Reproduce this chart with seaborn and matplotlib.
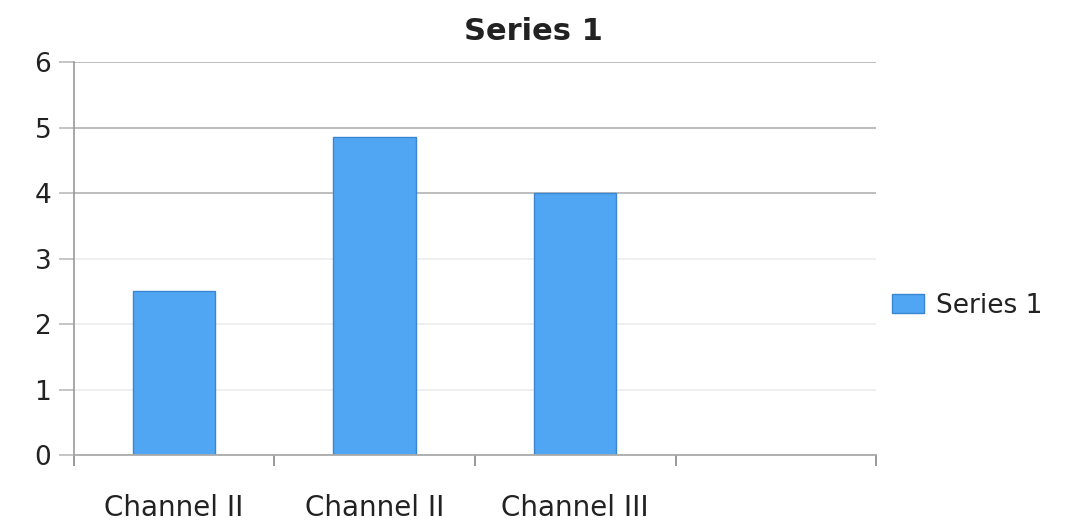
import matplotlib
matplotlib.use("Agg")
import matplotlib.pyplot as plt
import seaborn as sns
import pandas as pd
from matplotlib.ticker import FixedLocator

# Chart data
slots = [0, 1, 2]
channel_labels = ["Channel II", "Channel II", "Channel III"]
values = [2.5, 4.85, 4.0]
series_name = "Series 1"
y_ticks = [0, 1, 2, 3, 4, 5, 6]

df = pd.DataFrame({"slot": slots, "value": values, "series": [series_name] * len(slots)})

sns.set_style("white")
plt.rcParams["font.family"] = ["DejaVu Sans"]

fig = plt.figure(figsize=(10.66, 5.22), dpi=100)
ax = fig.add_axes([0.069, 0.128, 0.753, 0.753])

bar_color = "#50a6f2"
sns.barplot(data=df, x="slot", y="value", hue="series", palette=[bar_color],
            saturation=1, width=0.41, edgecolor="#3a86d2", linewidth=1.0,
            ax=ax, legend=True)

ax.set_xlim(-0.5, 3.5)
ax.set_ylim(0, 6)
ax.set_xlabel("")
ax.set_ylabel("")
fig.suptitle(series_name, x=0.5, y=0.968, fontsize=22, fontweight="bold", color="#222222")

# Category labels without tick marks; tick marks on slot boundaries
ax.set_xticks(slots)
ax.set_xticklabels(channel_labels, fontsize=20, color="#222222")
ax.tick_params(axis="x", which="major", bottom=False, length=0, pad=28)
ax.xaxis.set_minor_locator(FixedLocator([-0.5, 0.5, 1.5, 2.5, 3.5]))
ax.tick_params(axis="x", which="minor", bottom=True, length=8, width=1.2,
               color="#888888", direction="out")

ax.set_yticks(y_ticks)
ax.set_yticklabels([str(v) for v in y_ticks], fontsize=19, color="#222222")
ax.tick_params(axis="y", left=True, length=11, width=1.2, color="#bbbbbb", pad=5)

# Horizontal gridlines: upper ones clearly grey, lower ones very faint
ax.yaxis.grid(True, linewidth=1.3)
for val, gl in zip(y_ticks, ax.get_ygridlines()):
    gl.set_color("#b8b8b8" if val >= 4 else "#eeeeee")
ax.set_axisbelow(True)

for side in ["top", "right"]:
    ax.spines[side].set_visible(False)
ax.spines["left"].set_color("#999999")
ax.spines["left"].set_linewidth(1.2)
ax.spines["bottom"].set_color("#aaaaaa")
ax.spines["bottom"].set_linewidth(1.3)

leg = ax.legend(loc="center left", bbox_to_anchor=(0.99, 0.38), frameon=False,
                fontsize=19, handlelength=1.2, handleheight=0.75, handletextpad=0.45,
                labelcolor="#222222")

fig.savefig("out.png", dpi=100, facecolor="white")
